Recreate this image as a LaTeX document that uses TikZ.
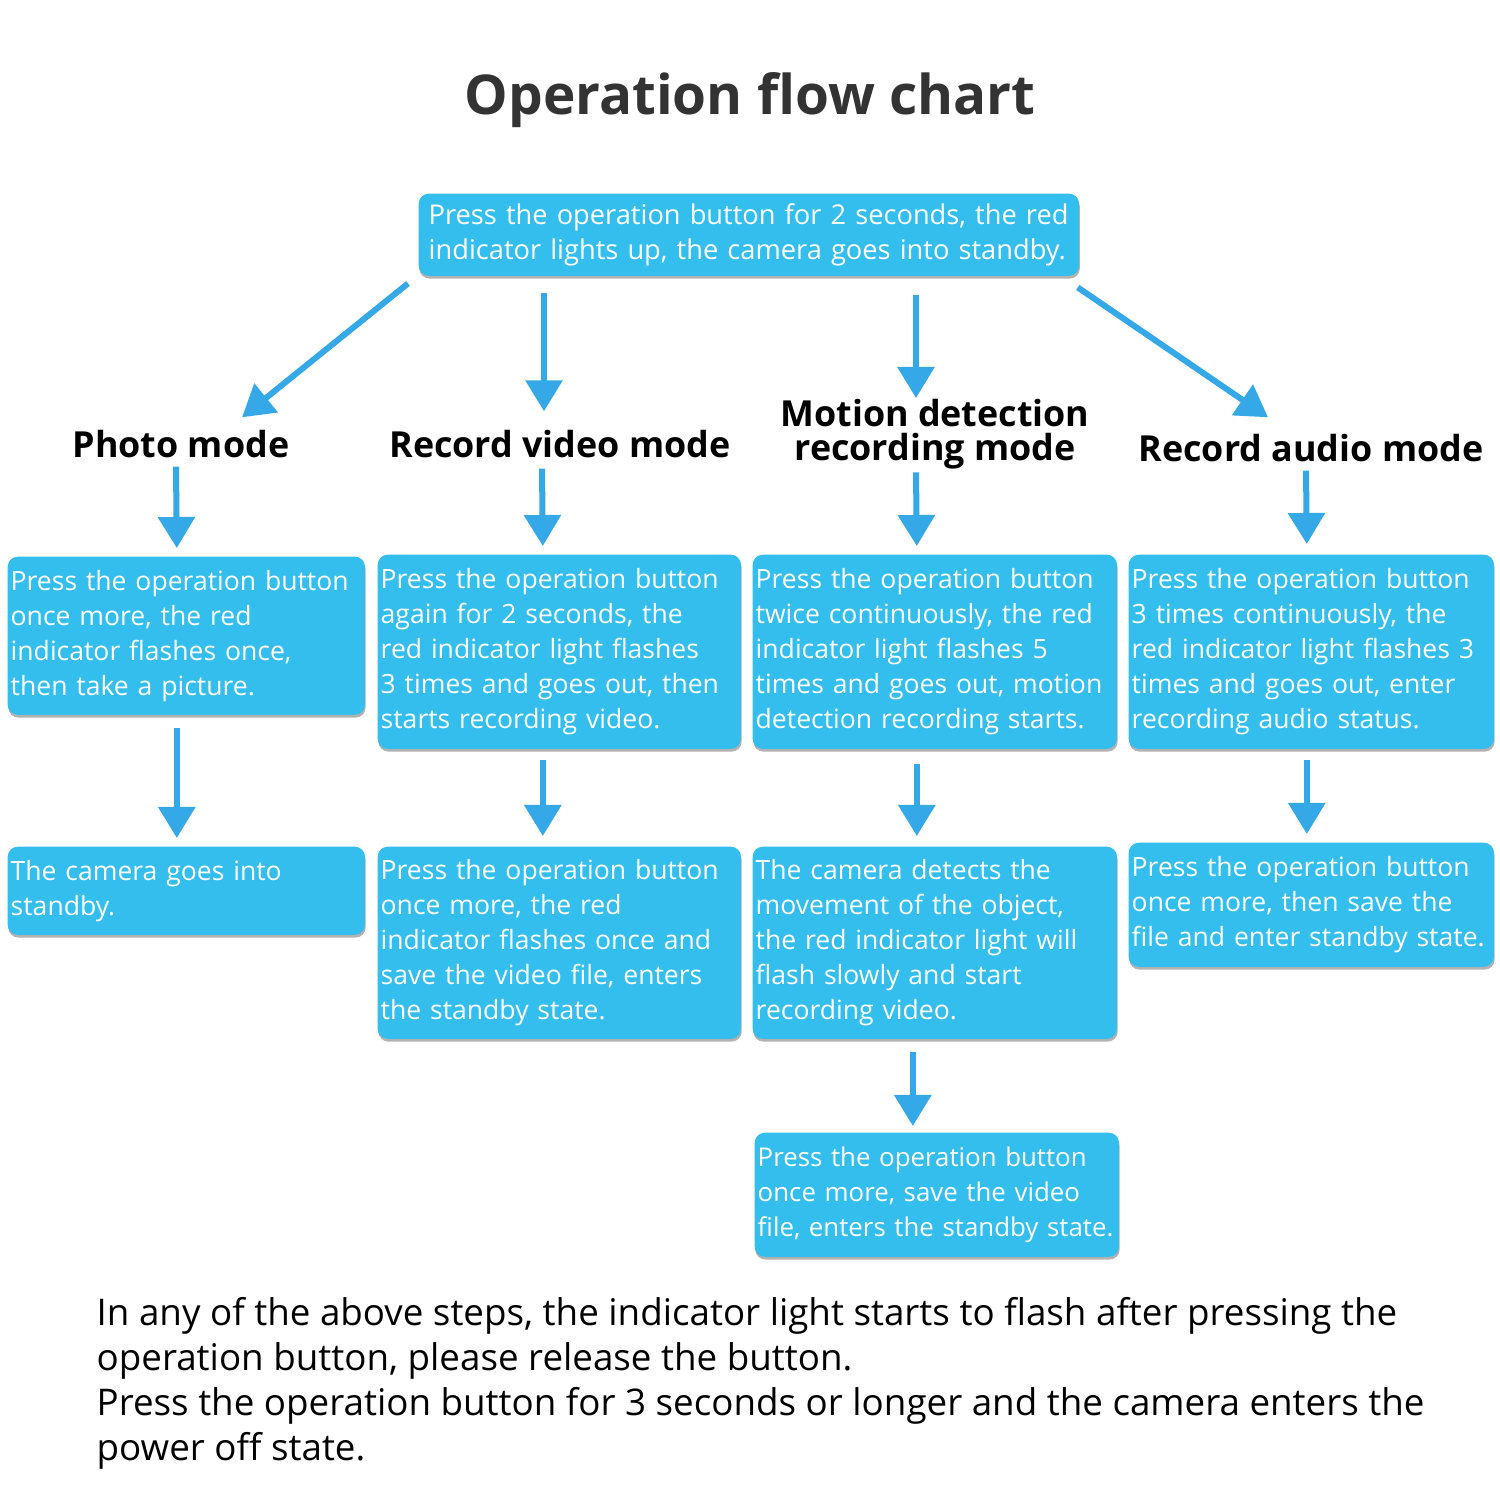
\documentclass[tikz,border=0pt]{standalone}
\usepackage{fontspec}
\setmainfont{Open Sans}
\usetikzlibrary{arrows.meta, positioning, shadows}

\definecolor{boxblue}{RGB}{51,190,238}
\definecolor{arrowblue}{RGB}{53,168,232}
\definecolor{titlegray}{RGB}{51,51,51}

\begin{document}
\begin{tikzpicture}[
        x=0.01cm, y=-0.01cm,
        flowbox/.style={rectangle, rounded corners=0.1cm, anchor=north west, fill=boxblue, text=white, align=left, inner xsep=0.03cm, inner ysep=0.04cm, font=\fontsize{7.55}{9.96}\selectfont, drop shadow={shadow xshift=0.2pt, shadow yshift=-0.8pt, opacity=0.3, fill=black}},
        modelabel/.style={inner sep=0pt, text height=0.25cm, text depth=0cm, font=\fontsize{10.2}{12}\selectfont\bfseries},
        flowarrow/.style={draw=arrowblue, line width=0.06cm, -{Triangle[length=0.31cm, width=0.36cm]}}
    ]
    \useasboundingbox (0,0) rectangle (1500,1500);
    \fill[white] (0,0) rectangle (1500,1500);

    % Title and start
    \node (title) [font=\fontsize{15.6}{18}\selectfont\bfseries, text=titlegray] at (750,100) {Operation flow chart};
    \node (top) [flowbox, minimum width=6.6cm, minimum height=0.82cm, text width=6.4cm, inner xsep=0.1cm, font=\fontsize{7.75}{9.96}\selectfont] at (418,193) {Press the operation button for 2 seconds, the red\\indicator lights up, the camera goes into standby.};

    % Modes
    \node (photo) [modelabel] at (181,445) {Photo mode};
    \node (video) [modelabel] at (560,445) {Record video mode};
    \node (motion) [inner sep=0pt, align=center, anchor=north, font=\fontsize{10.2}{9.4}\selectfont\bfseries] at (935,399) {Motion detection\\recording mode};
    \node (audio) [modelabel] at (1311,449) {Record audio mode};

    % Row 1
    \node (a1) [flowbox, minimum width=3.57cm, minimum height=1.58cm, text width=3.51cm] at (7,556) {Press the operation button\\once more, the red\\indicator flashes once,\\then take a picture.};
    \node (b1) [flowbox, minimum width=3.63cm, minimum height=1.94cm, text width=3.57cm] at (377,554) {Press the operation button\\again for 2 seconds, the\\red indicator light flashes\\3 times and goes out, then\\starts recording video.};
    \node (c1) [flowbox, minimum width=3.64cm, minimum height=1.94cm, text width=3.58cm] at (752,554) {Press the operation button\\twice continuously, the red\\indicator light flashes 5\\times and goes out, motion\\detection recording starts.};
    \node (d1) [flowbox, minimum width=3.65cm, minimum height=1.94cm, text width=3.59cm] at (1128,554) {Press the operation button\\3 times continuously, the\\red indicator light flashes 3\\times and goes out, enter\\recording audio status.};

    % Row 2
    \node (a2) [flowbox, minimum width=3.57cm, minimum height=0.88cm, text width=3.51cm] at (7,846) {The camera goes into\\standby.};
    \node (b2) [flowbox, minimum width=3.63cm, minimum height=1.92cm, text width=3.57cm] at (377,846) {Press the operation button\\once more, the red\\indicator flashes once and\\save the video file, enters\\the standby state.};
    \node (c2) [flowbox, minimum width=3.64cm, minimum height=1.92cm, text width=3.58cm] at (752,846) {The camera detects the\\movement of the object,\\the red indicator light will\\flash slowly and start\\recording video.};
    \node (d2) [flowbox, minimum width=3.65cm, minimum height=1.24cm, text width=3.59cm] at (1128,842) {Press the operation button\\once more, then save the\\file and enter standby state.};

    % Row 3
    \node (c3) [flowbox, minimum width=3.64cm, minimum height=1.24cm, text width=3.58cm, font=\fontsize{7.35}{9.96}\selectfont] at (754,1132) {Press the operation button\\once more, save the video\\\mbox{file, enters the standby state.}};

    % Note
    \node (note) [anchor=north west, inner sep=0pt, align=left, font=\fontsize{10.45}{12.8}\selectfont] at (96,1297) {In any of the above steps, the indicator light starts to flash after pressing the\\operation button, please release the button.\\Press the operation button for 3 seconds or longer and the camera enters the\\power off state.};

    % Arrows: start to modes
    \draw [flowarrow] ([shift={(-10,7)}]top.south west) -- ([shift={(61,-14.5)}]photo.north);
    \draw [flowarrow] ([shift={(126,17)}]top.south west) -- ([shift={(-16,-20.5)}]video.north);
    \draw [flowarrow] ([shift={(498,19)}]top.south west) -- ([shift={(-19,-1)}]motion.north);
    \draw [flowarrow] ([shift={(-2,11)}]top.south east) -- ([shift={(-43,-18.5)}]audio.north);

    % Arrows: modes to row 1
    \draw [flowarrow] ([shift={(-5,8.5)}]photo.south) -- ([shift={(-9.5,-8)}]a1.north);
    \draw [flowarrow] ([shift={(-18,10.5)}]video.south) -- ([shift={(-16.5,-8)}]b1.north);
    \draw [flowarrow] ([shift={(-19,3)}]motion.south) -- ([shift={(-18,-8)}]c1.north);
    \draw [flowarrow] ([shift={(-5,8.5)}]audio.south) -- ([shift={(-4.5,-10)}]d1.north);

    % Arrows: row 1 to row 2
    \draw [flowarrow] ([shift={(-9.5,12)}]a1.south) -- ([shift={(-9.5,-8)}]a2.north);
    \draw [flowarrow] ([shift={(-16.5,10)}]b1.south) -- ([shift={(-16.5,-10)}]b2.north);
    \draw [flowarrow] ([shift={(-18,14)}]c1.south) -- ([shift={(-18,-10)}]c2.north);
    \draw [flowarrow] ([shift={(-4.5,10)}]d1.south) -- ([shift={(-4.5,-8)}]d2.north);

    % Arrows: row 2 to row 3
    \draw [flowarrow] ([shift={(-22,12)}]c2.south) -- ([shift={(-24,-6)}]c3.north);
\end{tikzpicture}
\end{document}
